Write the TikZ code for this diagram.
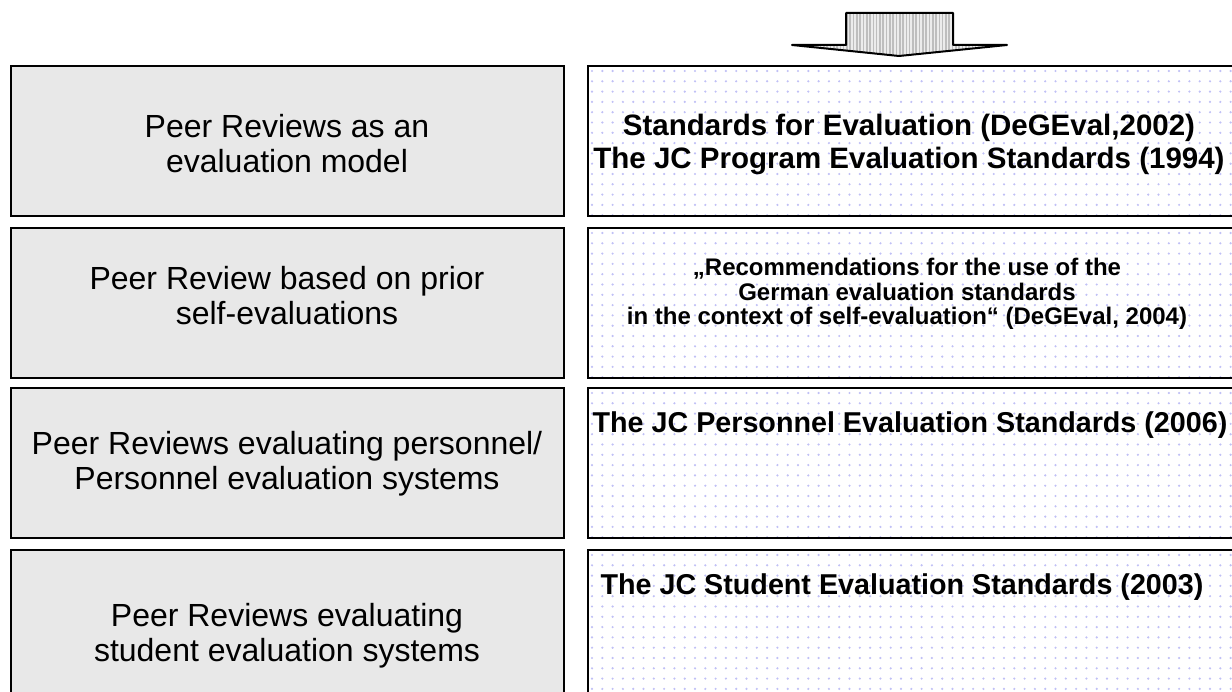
\documentclass[tikz,border=0pt]{standalone}
\usepackage{fontspec}
\setmainfont{Liberation Sans}
\definecolor{boxgray}{RGB}{232,232,232}
\definecolor{dotblue}{RGB}{192,192,246}
\definecolor{stripegray}{RGB}{190,190,190}
\definecolor{stripelight}{RGB}{236,236,236}
\begin{document}
\begin{tikzpicture}[x=1pt,y=-1pt,
  leftbox/.style={draw=black, line width=2pt, fill=boxgray, anchor=north west,
    minimum width=553pt, minimum height=150pt, inner sep=0pt, outer sep=0pt},
  rightbox/.style={draw=black, line width=2pt, fill=white, anchor=north west,
    minimum width=652pt, minimum height=150pt, inner sep=0pt, outer sep=0pt,
    path picture={
      \foreach \i in {0,...,64}{
        \foreach \j in {0,...,15}{
          \fill[dotblue] ([xshift=\i*10.3pt+4pt, yshift=-\j*10.3pt-5pt]path picture bounding box.north west) circle (1.2pt);
        }
      }
    }},
  lefttext/.style={font=\fontsize{32}{35}\selectfont, align=center, inner sep=0pt},
  bigtext/.style={font=\fontsize{29.5}{33}\selectfont\bfseries, align=center, inner sep=0pt},
  righttext/.style={font=\fontsize{28.7}{33}\selectfont\bfseries, align=center, inner sep=0pt},
  smalltext/.style={font=\fontsize{24}{24.5}\selectfont\bfseries, align=center, inner sep=0pt}]

\useasboundingbox (0,0) rectangle (1232,692);

% left column: the kinds of peer review
\node[leftbox] (L1) at (11,66) {};
\node[leftbox] (L2) at (11,228) {};
\node[leftbox] (L3) at (11,388) {};
\node[leftbox] (L4) at (11,550) {};

% right column: the matching standards
\node[rightbox] (R1) at (588,66) {};
\node[rightbox] (R2) at (588,228) {};
\node[rightbox] (R3) at (588,388) {};
\node[rightbox] (R4) at (588,550) {};

\node[lefttext] (tL1) at (287,144) {Peer Reviews as an\\evaluation model};
\node[lefttext] (tL2) at (287,296) {Peer Review based on prior\\self-evaluations};
\node[lefttext] (tL3) at (287,464) {Peer Reviews evaluating personnel/\\Personnel evaluation systems};
\node[lefttext] (tL4) at (287,636) {Peer Reviews evaluating\\student evaluation systems};

\node[bigtext] (tR1) at (909,144) {Standards for Evaluation (DeGEval,2002)\\The JC Program Evaluation Standards (1994)};
\node[smalltext] (tR2) at (907,294) {„Recommendations for the use of the\\German evaluation standards\\in the context of self-evaluation“ (DeGEval, 2004)};
\node[righttext] (tR3) at (910,425) {The JC Personnel Evaluation Standards (2006)};
\node[righttext] (tR4) at (902,587) {The JC Student Evaluation Standards (2003)};

% striped block arrow pointing down onto the standards column
\coordinate (aTL) at (846,13);
\coordinate (aTR) at (953,13);
\coordinate (aSR) at (953,45);
\coordinate (aWR) at (1007,45);
\coordinate (aTip) at (899,56);
\coordinate (aWL) at (792,45);
\coordinate (aSL) at (846,45);
\path[draw=black, line width=2pt, line join=round, fill=stripelight,
  path picture={
    \foreach \k in {0,...,70}{
      \fill[stripegray] (790+\k*3.3,0) rectangle (791.6+\k*3.3,70);
    }
  }]
  (aTL) -- (aTR) -- (aSR) -- (aWR) -- (aTip) -- (aWL) -- (aSL) -- cycle;
\end{tikzpicture}
\end{document}
